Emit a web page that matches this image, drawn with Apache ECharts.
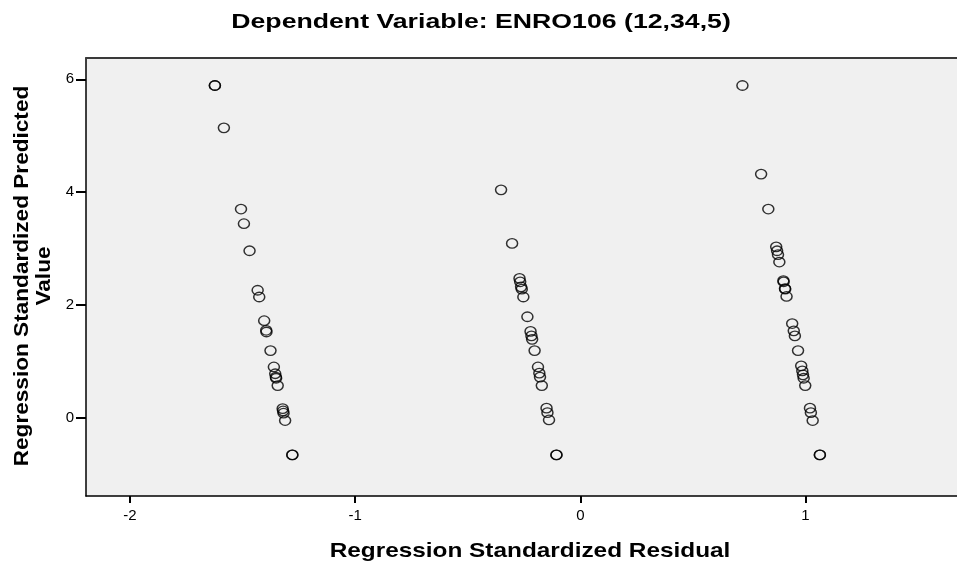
<!DOCTYPE html>
<html>
<head>
<meta charset="utf-8">
<title>Residual scatter</title>
<script src="https://cdn.jsdelivr.net/npm/echarts@6/dist/echarts.min.js"></script>
<style>
  html, body { margin: 0; padding: 0; background: #ffffff; }
  #chart { width: 957px; height: 569px; }
</style>
</head>
<body>
<div id="chart"></div>
<script>
// Regression standardized residuals (x) against standardized predicted values (y),
// one pair of arrays per residual band.
const residualLow = [-1.623, -1.623, -1.583, -1.507, -1.494, -1.469, -1.433, -1.426, -1.404,
  -1.395, -1.394, -1.376, -1.361, -1.355, -1.352, -1.351, -1.344, -1.322, -1.320, -1.318,
  -1.311, -1.279, -1.279];
const predictedLow = [5.89, 5.89, 5.14, 3.70, 3.44, 2.96, 2.26, 2.14, 1.72,
  1.55, 1.52, 1.19, 0.90, 0.78, 0.72, 0.70, 0.57, 0.16, 0.12, 0.08,
  -0.05, -0.66, -0.66];

const residualMid = [-0.352, -0.303, -0.270, -0.267, -0.263, -0.260, -0.253, -0.235, -0.221,
  -0.217, -0.214, -0.203, -0.188, -0.182, -0.179, -0.171, -0.150, -0.146, -0.139, -0.106, -0.106];
const predictedMid = [4.04, 3.09, 2.47, 2.41, 2.32, 2.28, 2.14, 1.79, 1.53,
  1.45, 1.39, 1.19, 0.90, 0.79, 0.72, 0.57, 0.17, 0.09, -0.04, -0.66, -0.66];

const residualHigh = [0.720, 0.803, 0.835, 0.870, 0.874, 0.878, 0.884, 0.902, 0.903, 0.909,
  0.910, 0.916, 0.941, 0.948, 0.953, 0.967, 0.981, 0.986, 0.989, 0.992, 0.999, 1.020, 1.024,
  1.032, 1.064, 1.064];
const predictedHigh = [5.89, 4.32, 3.70, 3.03, 2.96, 2.89, 2.76, 2.43, 2.41, 2.29,
  2.28, 2.15, 1.67, 1.54, 1.45, 1.19, 0.92, 0.83, 0.76, 0.70, 0.57, 0.17, 0.09,
  -0.05, -0.66, -0.66];

const xTicks = [-2, -1, 0, 1];
const yTicks = [0, 2, 4, 6];

const titleText = 'Dependent Variable: ENRO106 (12,34,5)';
const xTitle = 'Regression Standardized Residual';
const yTitle = 'Regression Standardized Predicted\nValue';

function pairs(xs, ys) {
  return xs.map((x, i) => [x, ys[i]]);
}
const points = [].concat(
  pairs(residualLow, predictedLow),
  pairs(residualMid, predictedMid),
  pairs(residualHigh, predictedHigh)
);

const FONT = '"Liberation Sans", Arial, sans-serif';

// Bold headings are drawn slightly widened, like the wide bold face of the chart text.
function heading(text, x, y, size, stretch, rotation) {
  return {
    type: 'text',
    x: x, y: y,
    rotation: rotation || 0,
    scaleX: stretch,
    silent: true,
    style: {
      text: text,
      fill: '#000',
      font: 'bold ' + size + 'px ' + FONT,
      align: 'center',
      verticalAlign: 'middle',
      lineHeight: 22
    }
  };
}

const chart = echarts.init(document.getElementById('chart'), null, { renderer: 'canvas' });
chart.setOption({
  animation: false,
  backgroundColor: '#ffffff',
  graphic: [
    heading(titleText, 481, 22, 21, 1.27),
    heading(xTitle, 530, 551, 21, 1.16),
    heading(yTitle, 33, 276, 20, 1.13, Math.PI / 2)
  ],
  grid: {
    left: 86, top: 58, right: -6, bottom: 73,
    show: true, backgroundColor: '#f0f0f0', borderWidth: 0
  },
  xAxis: [{
    type: 'value',
    min: -2.1954, max: 1.673,
    axisLine: { show: true, onZero: false, lineStyle: { color: '#000', width: 1.5 } },
    axisTick: { show: true, length: 7, lineStyle: { color: '#000', width: 2 }, customValues: xTicks },
    axisLabel: { fontFamily: FONT, fontSize: 15, color: '#000', margin: 12, customValues: xTicks },
    splitLine: { show: false }
  }, {
    type: 'value',
    position: 'top',
    min: -2.1954, max: 1.673,
    axisLine: { show: true, onZero: false, lineStyle: { color: '#3a3a3a', width: 2 } },
    axisTick: { show: false },
    axisLabel: { show: false },
    splitLine: { show: false }
  }],
  yAxis: {
    type: 'value',
    min: -1.388, max: 6.378,
    axisLine: { show: true, onZero: false, lineStyle: { color: '#000', width: 1.5 } },
    axisTick: { show: true, length: 10, lineStyle: { color: '#000', width: 2 }, customValues: yTicks },
    axisLabel: { fontFamily: FONT, fontSize: 15, color: '#000', margin: 12, customValues: yTicks },
    splitLine: { show: false }
  },
  series: [{
    type: 'scatter',
    xAxisIndex: 0,
    data: points,
    symbol: 'circle',
    symbolSize: [11, 9.5],
    itemStyle: { color: 'rgba(0,0,0,0)', borderColor: '#000', borderWidth: 1.4 }
  }]
});
</script>
</body>
</html>
